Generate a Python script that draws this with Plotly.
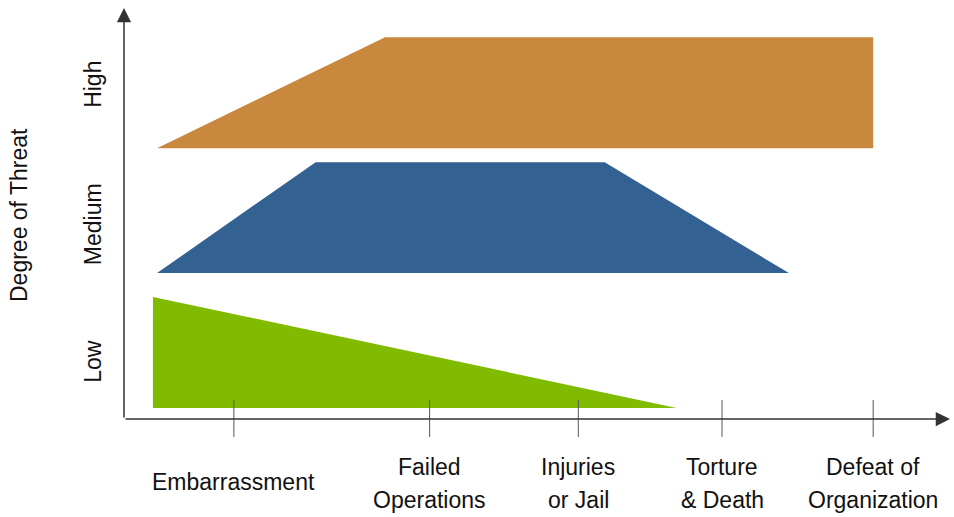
import plotly.graph_objects as go

# ---- data (abstract 0-100 scales) ----
tick_positions = [13.3, 37.0, 55.0, 72.4, 90.7]
tick_labels = ["Embarrassment", "Failed<br>Operations", "Injuries<br>or Jail",
               "Torture<br>& Death", "Defeat of<br>Organization"]

level_labels = ["High", "Medium", "Low"]
level_positions = [81.3, 47.4, 13.9]

high_x = [4.0, 31.6, 90.7, 90.7]
high_y = [65.9, 92.9, 92.9, 65.9]
medium_x = [4.0, 23.2, 58.2, 80.5]
medium_y = [35.5, 62.5, 62.5, 35.5]
low_x = [3.5, 3.5, 66.9]
low_y = [29.7, 2.7, 2.7]

colors = {"High": "#C8883E", "Medium": "#336191", "Low": "#80BB00"}

FONT = "Liberation Sans, Arial, sans-serif"

fig = go.Figure()
for name, xs, ys in [("High", high_x, high_y), ("Medium", medium_x, medium_y), ("Low", low_x, low_y)]:
    fig.add_trace(go.Scatter(x=xs, y=ys, fill="toself", mode="lines",
                             line=dict(width=0, color=colors[name]),
                             fillcolor=colors[name], hoverinfo="skip", showlegend=False))

W, H = 954, 517
ml, mr, mt, mb = 124, 4, 8, 98
ph = H - mt - mb
pw = W - ml - mr

def py(pix):
    return (H - mb - pix) / ph

annotations = []
shapes = []
# axis arrows
annotations.append(dict(x=1, y=0, xref="paper", yref="paper", ax=-pw, ay=0, text="",
                        showarrow=True, arrowhead=2, arrowsize=1.9, arrowwidth=1.5,
                        arrowcolor="#333333"))
annotations.append(dict(x=0, y=1, xref="paper", yref="paper", ax=0, ay=ph, text="",
                        showarrow=True, arrowhead=2, arrowsize=1.9, arrowwidth=1.5,
                        arrowcolor="#333333"))

# ticks + labels
for xv, lab in zip(tick_positions, tick_labels):
    shapes.append(dict(type="line", xref="x", yref="paper", x0=xv, x1=xv,
                       y0=py(400), y1=py(437), line=dict(color="#555555", width=1)))
    lines = lab.split("<br>")
    if len(lines) == 1:
        ys = [py(482)]
    else:
        ys = [py(467), py(500)]
    for t, yv in zip(lines, ys):
        annotations.append(dict(x=xv, y=yv, xref="x", yref="paper", text=t,
                                showarrow=False, xanchor="center", yanchor="middle",
                                font=dict(family=FONT, size=23, color="#111111")))

for lab, yv in zip(level_labels, level_positions):
    annotations.append(dict(x=-31 / pw, y=yv, xref="paper", yref="y", text=lab,
                            textangle=-90, showarrow=False, xanchor="center", yanchor="middle",
                            font=dict(family=FONT, size=23, color="#111111")))

annotations.append(dict(x=-105 / pw, y=py(215), xref="paper", yref="paper",
                        text="Degree of Threat", textangle=-90, showarrow=False,
                        xanchor="center", yanchor="middle",
                        font=dict(family=FONT, size=23, color="#111111")))

fig.update_layout(
    width=W, height=H,
    margin=dict(l=ml, r=mr, t=mt, b=mb),
    plot_bgcolor="white", paper_bgcolor="white",
    xaxis=dict(range=[0, 100], visible=False, fixedrange=True),
    yaxis=dict(range=[0, 100], visible=False, fixedrange=True),
    annotations=annotations, shapes=shapes,
)

fig.write_html("out.html", config={"displayModeBar": False},
               post_script="document.body.style.margin='0';document.body.style.overflow='hidden';")
